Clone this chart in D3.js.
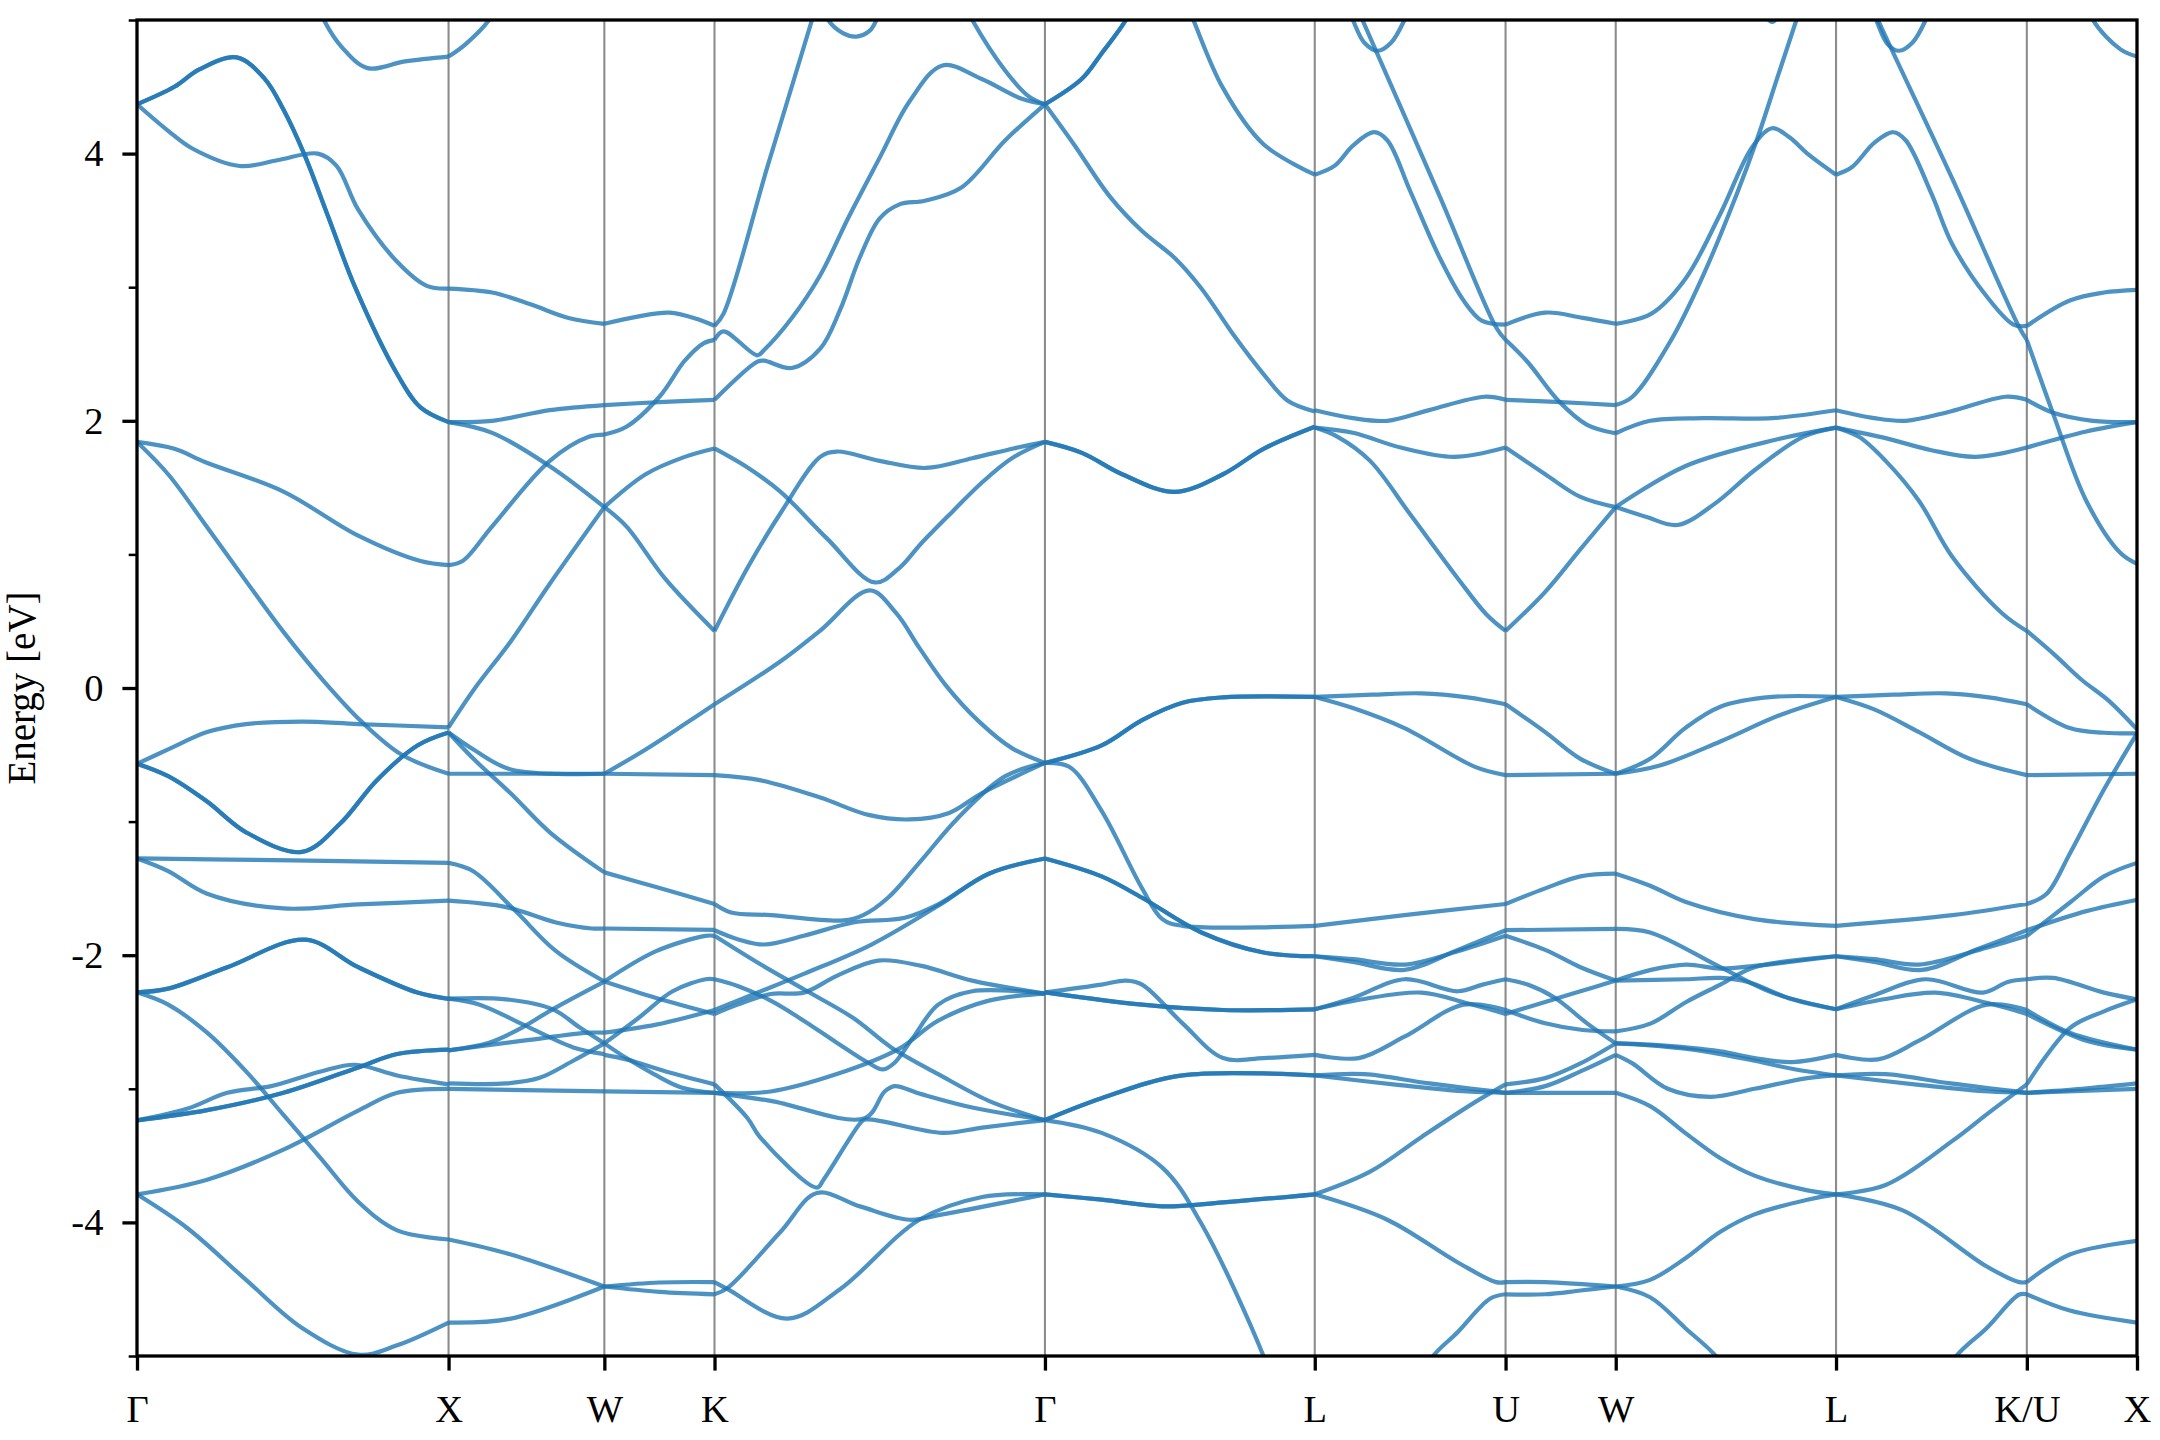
<!DOCTYPE html>
<html><head><meta charset="utf-8">
<script src="https://cdn.jsdelivr.net/npm/d3@7"></script>
<style>body{margin:0;background:#fff}</style>
</head><body>
<svg id="chart" width="2160" height="1440"></svg>
<script>
// High-symmetry path labels and cumulative k-distances
const kLabels = ["Γ","X","W","K","Γ","L","U","W","L","K/U","X"];
const kDist = [0, 1, 1.5, 1.8536, 2.9142, 3.7802, 4.3926, 4.7462, 5.4533, 6.0657, 6.4193];
const yTicks = [-4, -2, 0, 2, 4];
const yMinor = [-5, -3, -1, 1, 3, 5];

// Each band: [degeneracy, [[t (fraction along segment), E (eV)], ...]]
const segGX = [
 [2,[[0,4.369],[0.12,4.5],[0.2,4.63],[0.32,4.72],[0.41,4.56],[0.47,4.33],[0.536,4.0],[0.615,3.52],[0.70,3.0],[0.835,2.35],[0.91,2.1],[1,1.99]]],
 [1,[[0,4.369],[0.1,4.17],[0.176,4.04],[0.33,3.907],[0.45,3.95],[0.58,4.0],[0.64,3.91],[0.71,3.58],[0.835,3.19],[0.93,3.01],[1,2.99]]],
 [1,[[0.56,5.25],[0.6,5.0],[0.66,4.79],[0.74,4.64],[0.86,4.69],[1,4.726]]],
 [1,[[0,1.842],[0.12,1.79],[0.22,1.69],[0.47,1.47],[0.71,1.14],[0.91,0.95],[1,0.92]]],
 [1,[[0,1.842],[0.1,1.60],[0.22,1.22],[0.35,0.80],[0.47,0.42],[0.6,0.05],[0.72,-0.25],[0.85,-0.5],[1,-0.642]]],
 [1,[[0,-0.567],[0.1,-0.46],[0.225,-0.33],[0.35,-0.27],[0.53,-0.252],[0.71,-0.27],[1,-0.294]]],
 [2,[[0,-0.567],[0.1,-0.66],[0.225,-0.85],[0.35,-1.08],[0.53,-1.227],[0.65,-1.02],[0.77,-0.69],[0.9,-0.43],[1,-0.333]]],
 [1,[[0,-1.276],[0.5,-1.29],[1,-1.309]]],
 [1,[[0,-1.276],[0.1,-1.37],[0.225,-1.54],[0.47,-1.65],[0.71,-1.62],[1,-1.592]]],
 [2,[[0,-2.278],[0.1,-2.25],[0.29,-2.09],[0.54,-1.884],[0.71,-2.09],[0.9,-2.28],[1,-2.327]]],
 [1,[[0,-2.278],[0.1,-2.37],[0.225,-2.58],[0.35,-2.87],[0.47,-3.195],[0.59,-3.52],[0.71,-3.845],[0.835,-4.06],[1,-4.128]]],
 [1,[[0,-3.237],[0.16,-3.15],[0.29,-3.03],[0.43,-2.98],[0.59,-2.87],[0.70,-2.82],[0.835,-2.90],[1,-2.967]]],
 [2,[[0,-3.237],[0.225,-3.16],[0.47,-3.03],[0.71,-2.84],[0.835,-2.74],[1,-2.707]]],
 [1,[[0,-3.79],[0.225,-3.68],[0.47,-3.455],[0.71,-3.163],[0.835,-3.03],[1,-3.0]]],
 [1,[[0,-3.79],[0.16,-4.04],[0.35,-4.43],[0.53,-4.79],[0.71,-4.99],[0.835,-4.92],[1,-4.75]]]
];
const segXW = [
 [1,[[0,4.726],[0.11,4.82],[0.26,5.0],[0.4,5.3]]],
 [1,[[0,2.99],[0.28,2.96],[0.53,2.87],[0.77,2.77],[1,2.726]]],
 [1,[[0,1.99],[0.28,2.0],[0.65,2.08],[1,2.118]]],
 [1,[[0,1.99],[0.28,1.91],[0.65,1.66],[1,1.354]]],
 [1,[[0,0.92],[0.09,0.95],[0.28,1.21],[0.65,1.70],[0.9,1.88],[1,1.897]]],
 [1,[[0,-0.294],[0.17,0.0],[0.4,0.35],[0.65,0.78],[1,1.354]]],
 [1,[[0,-0.333],[0.16,-0.46],[0.4,-0.61],[1,-0.642]]],
 [1,[[0,-0.333],[0.16,-0.53],[0.4,-0.79],[0.65,-1.08],[1,-1.38]]],
 [1,[[0,-0.642],[1,-0.642]]],
 [1,[[0,-1.309],[0.156,-1.37],[0.43,-1.67],[0.69,-1.97],[1,-2.197]]],
 [1,[[0,-1.592],[0.37,-1.64],[0.69,-1.755],[0.92,-1.80],[1,-1.80]]],
 [1,[[0,-2.712],[0.26,-2.655],[0.475,-2.54],[0.667,-2.405],[1,-2.197]]],
 [1,[[0,-2.712],[0.48,-2.64],[0.9,-2.58],[1,-2.58]]],
 [1,[[0,-2.325],[0.37,-2.33],[0.67,-2.405],[0.84,-2.54],[1,-2.66]]],
 [1,[[0,-2.325],[0.2,-2.37],[0.48,-2.52],[0.8,-2.69],[1,-2.74]]],
 [1,[[0,-2.96],[0.37,-2.96],[0.58,-2.92],[0.8,-2.79],[1,-2.66]]],
 [1,[[0,-3.0],[1,-3.02]]],
 [1,[[0,-4.128],[0.4,-4.24],[1,-4.48]]],
 [1,[[0,-4.75],[0.4,-4.72],[1,-4.48]]]
];
const segWK = [
 [1,[[0,2.726],[0.3,2.78],[0.59,2.81],[0.85,2.76],[1,2.71]]],
 [1,[[0,2.118],[0.5,2.14],[1,2.157]]],
 [1,[[0,1.897],[0.2,1.955],[0.5,2.18],[0.73,2.45],[0.9,2.58],[1,2.606]]],
 [1,[[0,1.354],[0.375,1.60],[0.73,1.73],[1,1.793]]],
 [1,[[0,1.354],[0.2,1.21],[0.55,0.82],[1,0.427]]],
 [1,[[0,-0.642],[0.375,-0.46],[0.73,-0.27],[1,-0.122]]],
 [1,[[0,-0.642],[1,-0.652]]],
 [1,[[0,-1.38],[0.47,-1.49],[1,-1.617]]],
 [1,[[0,-1.80],[1,-1.81]]],
 [1,[[0,-2.197],[0.47,-1.97],[0.92,-1.855],[1,-1.855]]],
 [1,[[0,-2.197],[0.47,-2.32],[1,-2.44]]],
 [1,[[0,-2.58],[0.47,-2.52],[1,-2.41]]],
 [1,[[0,-2.66],[0.31,-2.47],[0.62,-2.27],[0.92,-2.18],[1,-2.18]]],
 [1,[[0,-2.66],[0.2,-2.77],[0.45,-2.89],[0.7,-2.99],[1,-3.03]]],
 [1,[[0,-2.746],[0.2,-2.78],[0.6,-2.88],[1,-2.967]]],
 [1,[[0,-3.02],[1,-3.03]]],
 [1,[[0,-4.48],[0.5,-4.45],[1,-4.447]]],
 [1,[[0,-4.48],[0.5,-4.52],[1,-4.538]]]
];
const segKG = [
 [1,[[0,2.71],[0.027,2.80],[0.16,3.9],[0.295,5.0],[0.33,5.3]]],
 [1,[[0.3,5.3],[0.344,5.0],[0.39,4.9],[0.43,4.876],[0.47,4.92],[0.49,5.0],[0.53,5.3]]],
 [1,[[0.74,5.2],[0.78,5.0],[0.88,4.62],[0.95,4.43],[1,4.369]]],
 [1,[[0,2.606],[0.027,2.67],[0.13,2.49],[0.15,2.53],[0.234,2.77],[0.32,3.09],[0.405,3.52],[0.50,3.97],[0.59,4.39],[0.69,4.66],[0.807,4.56],[0.93,4.41],[1,4.369]]],
 [1,[[0,2.157],[0.13,2.443],[0.15,2.45],[0.234,2.395],[0.32,2.54],[0.38,2.83],[0.44,3.224],[0.50,3.516],[0.56,3.62],[0.637,3.647],[0.746,3.744],[0.88,4.10],[1,4.369]]],
 [1,[[0,1.793],[0.1,1.65],[0.2,1.468],[0.34,1.12],[0.485,0.79],[0.56,0.9],[0.624,1.078],[0.72,1.32],[0.807,1.533],[0.9,1.72],[1,1.842]]],
 [1,[[0,0.427],[0.1,0.9],[0.2,1.31],[0.32,1.73],[0.37,1.77],[0.5,1.70],[0.64,1.647],[0.78,1.72],[0.905,1.793],[1,1.842]]],
 [1,[[0,-0.122],[0.2,0.20],[0.32,0.43],[0.47,0.73],[0.55,0.56],[0.62,0.30],[0.7,0.02],[0.8,-0.25],[0.9,-0.45],[1,-0.561]]],
 [1,[[0,-0.652],[0.137,-0.69],[0.32,-0.82],[0.466,-0.95],[0.59,-0.984],[0.71,-0.935],[0.807,-0.79],[1,-0.561]]],
 [1,[[0,-1.617],[0.05,-1.68],[0.17,-1.70],[0.39,-1.74],[0.45,-1.70],[0.525,-1.57],[0.626,-1.29],[0.734,-0.98],[0.88,-0.66],[1,-0.561]]],
 [1,[[0,-1.813],[0.07,-1.88],[0.15,-1.92],[0.27,-1.855],[0.42,-1.755],[0.576,-1.72],[0.677,-1.62],[0.83,-1.39],[1,-1.276]]],
 [1,[[0,-1.855],[0.12,-2.04],[0.27,-2.255],[0.42,-2.47],[0.535,-2.69],[0.677,-2.89],[0.83,-3.09],[0.98,-3.22],[1,-3.234]]],
 [1,[[0,-2.18],[0.07,-2.23],[0.17,-2.34],[0.27,-2.49],[0.37,-2.655],[0.465,-2.805],[0.51,-2.855],[0.545,-2.805],[0.6,-2.62],[0.677,-2.37],[0.78,-2.27],[1,-2.287]]],
 [1,[[0,-2.44],[0.07,-2.37],[0.17,-2.29],[0.27,-2.28],[0.37,-2.155],[0.495,-2.04],[0.626,-2.08],[0.78,-2.19],[1,-2.287]]],
 [1,[[0,-2.41],[0.12,-2.29],[0.27,-2.14],[0.475,-1.92],[0.677,-1.63],[0.83,-1.39],[1,-1.276]]],
 [1,[[0,-3.03],[0.17,-3.02],[0.37,-2.89],[0.555,-2.705],[0.677,-2.49],[0.83,-2.34],[1,-2.287]]],
 [1,[[0,-3.03],[0.17,-3.09],[0.455,-3.22],[0.515,-3.02],[0.545,-2.98],[0.626,-3.04],[0.78,-3.14],[1,-3.234]]],
 [1,[[0,-2.967],[0.1,-3.22],[0.137,-3.36],[0.31,-3.74],[0.33,-3.68],[0.44,-3.26],[0.455,-3.23],[0.69,-3.33],[0.81,-3.29],[1,-3.234]]],
 [1,[[0,-4.538],[0.04,-4.49],[0.2,-4.07],[0.31,-3.78],[0.44,-3.88],[0.59,-3.98],[0.69,-3.94],[1,-3.79]]],
 [1,[[0,-4.447],[0.04,-4.5],[0.22,-4.72],[0.38,-4.5],[0.62,-3.98],[0.81,-3.81],[1,-3.79]]]
];
const segGL = [
 [2,[[0,4.369],[0.137,4.56],[0.21,4.75],[0.30,5.0],[0.36,5.25]]],
 [1,[[0,4.369],[0.107,4.07],[0.24,3.68],[0.36,3.42],[0.48,3.22],[0.58,2.99],[0.70,2.64],[0.81,2.35],[0.90,2.15],[1,2.07]]],
 [1,[[0.5,5.25],[0.55,5.0],[0.66,4.49],[0.81,4.07],[1,3.842]]],
 [2,[[0,1.842],[0.137,1.76],[0.286,1.60],[0.48,1.468],[0.66,1.60],[0.81,1.79],[1,1.955]]],
 [2,[[0,-0.561],[0.21,-0.43],[0.36,-0.24],[0.51,-0.11],[0.66,-0.07],[1,-0.067]]],
 [1,[[0,-0.561],[0.09,-0.59],[0.21,-0.92],[0.36,-1.50],[0.435,-1.73],[0.51,-1.78],[1,-1.78]]],
 [2,[[0,-1.276],[0.21,-1.41],[0.36,-1.57],[0.58,-1.83],[0.81,-1.98],[1,-2.008]]],
 [1,[[0,-2.278],[0.21,-2.22],[0.30,-2.19],[0.36,-2.22],[0.51,-2.51],[0.66,-2.77],[0.81,-2.77],[1,-2.746]]],
 [2,[[0,-2.278],[0.36,-2.37],[0.66,-2.41],[1,-2.405]]],
 [2,[[0,-3.234],[0.21,-3.07],[0.51,-2.9],[1,-2.9]]],
 [1,[[0,-3.234],[0.21,-3.33],[0.435,-3.59],[0.58,-4.01],[0.81,-5.0],[0.86,-5.3]]],
 [2,[[0,-3.79],[0.21,-3.83],[0.435,-3.88],[0.66,-3.85],[1,-3.79]]]
];
const segLU = [
 [1,[[0,3.842],[0.105,3.91],[0.2,4.06],[0.31,4.16],[0.38,4.10],[0.5,3.72],[0.655,3.22],[0.78,2.90],[0.875,2.75],[1,2.72]]],
 [1,[[0.12,5.3],[0.2,5.0],[0.26,4.83],[0.33,4.77],[0.40,4.83],[0.47,5.0],[0.55,5.3]]],
 [1,[[0.19,5.2],[0.25,5.0],[0.655,3.68],[0.95,2.70],[1,2.606]]],
 [1,[[0,2.079],[0.2,2.02],[0.38,2.0],[0.6,2.08],[0.89,2.18],[1,2.157]]],
 [1,[[0,1.949],[0.2,1.91],[0.45,1.80],[0.73,1.73],[1,1.80]]],
 [1,[[0,1.949],[0.12,1.88],[0.29,1.70],[0.5,1.30],[0.75,0.82],[0.9,0.55],[1,0.427]]],
 [1,[[0,-0.067],[0.3,-0.05],[0.56,-0.04],[0.8,-0.07],[1,-0.122]]],
 [1,[[0,-0.067],[0.2,-0.15],[0.47,-0.30],[0.84,-0.59],[1,-0.652]]],
 [1,[[0,-1.78],[0.47,-1.70],[1,-1.617]]],
 [1,[[0,-2.008],[0.2,-2.05],[0.47,-2.11],[0.75,-1.96],[1,-1.813]]],
 [1,[[0,-2.008],[0.2,-2.03],[0.47,-2.07],[0.75,-1.97],[1,-1.855]]],
 [1,[[0,-2.405],[0.2,-2.32],[0.47,-2.18],[0.75,-2.27],[0.88,-2.22],[1,-2.18]]],
 [1,[[0,-2.405],[0.25,-2.33],[0.56,-2.28],[0.8,-2.36],[1,-2.44]]],
 [1,[[0,-2.746],[0.23,-2.77],[0.47,-2.61],[0.78,-2.37],[1,-2.41]]],
 [1,[[0,-2.9],[0.26,-2.89],[0.6,-2.96],[1,-3.03]]],
 [1,[[0,-2.9],[0.435,-2.97],[0.8,-3.02],[1,-3.03]]],
 [1,[[0,-3.79],[0.29,-3.62],[0.56,-3.36],[0.84,-3.10],[1,-2.967]]],
 [1,[[0,-3.79],[0.38,-3.98],[0.75,-4.30],[0.95,-4.447],[1,-4.447]]],
 [1,[[0.55,-5.3],[0.6,-5.04],[0.75,-4.82],[0.92,-4.57],[1,-4.538]]]
];
const segUW = [
 [1,[[0,2.72],[0.36,2.81],[0.7,2.77],[1,2.726]]],
 [1,[[0,2.606],[0.2,2.44],[0.48,2.15],[0.74,1.97],[1,1.907]]],
 [1,[[0,2.157],[0.5,2.14],[1,2.118]]],
 [1,[[0,1.80],[0.36,1.6],[0.68,1.43],[1,1.354]]],
 [1,[[0,0.427],[0.36,0.72],[0.68,1.04],[1,1.354]]],
 [1,[[0,-0.122],[0.36,-0.33],[0.68,-0.53],[1,-0.642]]],
 [1,[[0,-0.652],[1,-0.642]]],
 [1,[[0,-1.617],[0.36,-1.50],[0.68,-1.41],[1,-1.39]]],
 [1,[[0,-1.813],[1,-1.803]]],
 [1,[[0,-1.855],[0.36,-1.96],[0.68,-2.09],[1,-2.19]]],
 [1,[[0,-2.18],[0.2,-2.22],[0.45,-2.32],[0.74,-2.51],[1,-2.66]]],
 [1,[[0,-2.44],[0.36,-2.35],[0.68,-2.27],[1,-2.19]]],
 [1,[[0,-2.41],[0.36,-2.51],[0.7,-2.56],[1,-2.57]]],
 [1,[[0,-2.967],[0.36,-2.92],[0.68,-2.81],[1,-2.66]]],
 [1,[[0,-3.03],[0.36,-2.98],[0.68,-2.87],[1,-2.746]]],
 [1,[[0,-3.03],[1,-3.03]]],
 [1,[[0,-4.447],[0.36,-4.447],[1,-4.48]]],
 [1,[[0,-4.538],[0.36,-4.538],[0.68,-4.51],[1,-4.48]]]
];
const segWL = [
 [1,[[0,2.726],[0.16,2.80],[0.315,3.06],[0.475,3.55],[0.62,4.05],[0.71,4.19],[0.79,4.12],[0.87,4.0],[1,3.842]]],
 [1,[[0,2.118],[0.076,2.18],[0.25,2.6],[0.4,3.1],[0.55,3.7],[0.64,4.1],[0.74,4.6],[0.82,5.0],[0.87,5.25]]],
 [1,[[0.66,5.08],[0.71,4.985],[0.76,5.08]]],
 [1,[[0,1.907],[0.156,2.0],[0.4,2.02],[0.71,2.02],[1,2.079]]],
 [1,[[0,1.354],[0.315,1.66],[0.73,1.86],[1,1.949]]],
 [1,[[0,1.354],[0.14,1.28],[0.28,1.22],[0.45,1.38],[0.63,1.63],[0.85,1.88],[1,1.949]]],
 [1,[[0,-0.642],[0.156,-0.53],[0.315,-0.3],[0.475,-0.14],[0.71,-0.067],[1,-0.067]]],
 [1,[[0,-0.642],[0.2,-0.58],[0.475,-0.40],[0.75,-0.2],[1,-0.067]]],
 [1,[[0,-1.39],[0.156,-1.48],[0.315,-1.60],[0.63,-1.73],[1,-1.78]]],
 [1,[[0,-1.803],[0.156,-1.83],[0.475,-2.09],[0.71,-2.28],[1,-2.405]]],
 [1,[[0,-2.19],[0.16,-2.11],[0.32,-2.07],[0.475,-2.1],[0.63,-2.08],[1,-2.008]]],
 [1,[[0,-2.19],[0.32,-2.18],[0.475,-2.17],[0.6,-2.2],[0.8,-2.33],[1,-2.405]]],
 [1,[[0,-2.57],[0.16,-2.51],[0.32,-2.35],[0.475,-2.22],[0.63,-2.09],[1,-2.008]]],
 [1,[[0,-2.66],[0.156,-2.675],[0.315,-2.70],[0.475,-2.74],[0.63,-2.79],[0.8,-2.85],[1,-2.9]]],
 [1,[[0,-2.66],[0.156,-2.67],[0.475,-2.72],[0.63,-2.77],[0.8,-2.80],[1,-2.746]]],
 [1,[[0,-2.746],[0.076,-2.81],[0.236,-3.0],[0.43,-3.06],[0.63,-3.0],[0.87,-2.92],[1,-2.9]]],
 [1,[[0,-3.03],[0.156,-3.13],[0.315,-3.33],[0.475,-3.52],[0.63,-3.65],[0.87,-3.76],[1,-3.79]]],
 [1,[[0,-4.48],[0.156,-4.43],[0.315,-4.27],[0.475,-4.07],[0.63,-3.94],[0.87,-3.83],[1,-3.79]]],
 [1,[[0,-4.48],[0.156,-4.56],[0.315,-4.79],[0.475,-5.04],[0.55,-5.3]]]
];
const segLK = [
 [1,[[0,3.842],[0.084,3.9],[0.2,4.08],[0.30,4.16],[0.365,4.10],[0.5,3.7],[0.61,3.32],[0.79,2.93],[0.93,2.72],[1,2.71]]],
 [1,[[0.12,5.3],[0.21,5.0],[0.27,4.82],[0.33,4.77],[0.40,4.83],[0.47,5.0],[0.55,5.3]]],
 [1,[[0.16,5.2],[0.22,5.0],[0.61,3.81],[0.96,2.70],[1,2.606]]],
 [1,[[0,2.079],[0.2,2.02],[0.365,2.0],[0.6,2.07],[0.89,2.18],[1,2.157]]],
 [1,[[0,1.949],[0.26,1.87],[0.5,1.78],[0.73,1.73],[1,1.80]]],
 [1,[[0,1.949],[0.12,1.88],[0.26,1.70],[0.435,1.40],[0.61,0.98],[0.87,0.56],[1,0.427]]],
 [1,[[0,-0.067],[0.3,-0.05],[0.575,-0.04],[0.8,-0.07],[1,-0.122]]],
 [1,[[0,-0.067],[0.2,-0.16],[0.435,-0.33],[0.7,-0.53],[1,-0.652]]],
 [1,[[0,-1.78],[0.61,-1.70],[1,-1.617]]],
 [1,[[0,-2.008],[0.2,-2.05],[0.45,-2.11],[0.75,-1.95],[1,-1.813]]],
 [1,[[0,-2.008],[0.2,-2.03],[0.435,-2.07],[0.75,-1.96],[1,-1.855]]],
 [1,[[0,-2.405],[0.2,-2.3],[0.47,-2.18],[0.77,-2.28],[0.9,-2.2],[1,-2.18]]],
 [1,[[0,-2.405],[0.25,-2.33],[0.52,-2.28],[0.8,-2.36],[1,-2.44]]],
 [1,[[0,-2.746],[0.22,-2.78],[0.435,-2.64],[0.79,-2.37],[1,-2.41]]],
 [1,[[0,-2.9],[0.26,-2.89],[0.6,-2.96],[1,-3.03]]],
 [1,[[0,-2.9],[0.435,-2.97],[0.8,-3.02],[1,-3.03]]],
 [1,[[0,-3.79],[0.26,-3.72],[0.61,-3.39],[0.8,-3.18],[1,-2.967]]],
 [1,[[0,-3.79],[0.35,-3.91],[0.79,-4.33],[0.96,-4.447],[1,-4.447]]],
 [1,[[0.56,-5.3],[0.61,-5.04],[0.79,-4.79],[0.96,-4.54],[1,-4.538]]]
];
const segUX = [
 [1,[[0,2.71],[0.39,2.90],[0.7,2.96],[1,2.98]]],
 [1,[[0,2.606],[0.24,2.05],[0.54,1.40],[0.85,1.01],[1,0.93]]],
 [1,[[0,2.157],[0.24,2.06],[0.6,2.0],[1,1.99]]],
 [1,[[0,1.80],[0.54,1.92],[1,1.99]]],
 [1,[[0,0.427],[0.25,0.25],[0.5,0.06],[0.75,-0.1],[1,-0.31]]],
 [1,[[0.5,5.25],[0.6,5.0],[0.85,4.78],[1,4.726]]],
 [1,[[0,-0.122],[0.39,-0.30],[0.7,-0.335],[1,-0.34]]],
 [1,[[0,-0.652],[1,-0.642]]],
 [1,[[0,-1.617],[0.18,-1.54],[0.39,-1.24],[0.7,-0.76],[1,-0.34]]],
 [1,[[0,-1.813],[0.54,-1.67],[1,-1.585]]],
 [1,[[0,-1.855],[0.4,-1.6],[0.7,-1.41],[1,-1.309]]],
 [1,[[0,-2.18],[0.24,-2.17],[0.7,-2.28],[1,-2.33]]],
 [1,[[0,-2.41],[0.39,-2.58],[1,-2.707]]],
 [1,[[0,-2.44],[0.54,-2.64],[1,-2.707]]],
 [1,[[0,-2.967],[0.39,-2.545],[0.7,-2.42],[1,-2.33]]],
 [1,[[0,-3.03],[0.5,-3.0],[1,-2.96]]],
 [1,[[0,-3.03],[1,-3.0]]],
 [1,[[0,-4.447],[0.39,-4.24],[1,-4.138]]],
 [1,[[0,-4.538],[0.39,-4.66],[1,-4.75]]]
];
const segments = [segGX, segXW, segWK, segKG, segGL, segLU, segUW, segWL, segLK, segUX];

// ---------- drawing ----------
const svg = d3.select("#chart");
svg.append("rect").attr("width", 2160).attr("height", 1440).attr("fill", "#fff");
const L = 137, R = 2137, T = 20, B = 1356;
const x = d3.scaleLinear().domain([kDist[0], kDist[kDist.length - 1]]).range([L, R]);
const y = d3.scaleLinear().domain([-5, 5]).range([B, T]);
const font = "'Liberation Serif','Times New Roman',Times,serif";

svg.append("defs").append("clipPath").attr("id", "clip")
  .append("rect").attr("x", L).attr("y", T).attr("width", R - L).attr("height", B - T);

// vertical lines at interior high-symmetry points
svg.append("g").selectAll("line").data(kDist.slice(1, -1)).join("line")
  .attr("x1", d => x(d)).attr("x2", d => x(d)).attr("y1", T).attr("y2", B)
  .attr("stroke", "#000").attr("stroke-opacity", 0.45).attr("stroke-width", 2.1);

const line = d3.line().x(d => x(d[0])).y(d => y(d[1])).curve(d3.curveCatmullRom.alpha(0.5));
const bandData = [];
segments.forEach((seg, i) => {
  const k0 = kDist[i], k1 = kDist[i + 1];
  seg.forEach(([deg, pts]) => {
    const mapped = pts.map(([t, e]) => [k0 + t * (k1 - k0), e]);
    for (let j = 0; j < deg; j++) bandData.push(mapped);
  });
});
svg.append("g").attr("clip-path", "url(#clip)").selectAll("path").data(bandData).join("path")
  .attr("d", line).attr("fill", "none").attr("stroke", "#1f77b4")
  .attr("stroke-opacity", 0.8).attr("stroke-width", 4.2).attr("stroke-linejoin", "round");

// axes
const yAxis = d3.axisLeft(y).tickValues(yTicks).tickFormat(d => String(d)).tickSize(14.6).tickPadding(19);
const gy = svg.append("g").attr("transform", `translate(${L},0)`).call(yAxis);
const yAxisMinor = d3.axisLeft(y).tickValues(yMinor).tickFormat("").tickSize(8.3);
const gym = svg.append("g").attr("transform", `translate(${L},0)`).call(yAxisMinor);
const xAxis = d3.axisBottom(x).tickValues(kDist).tickFormat((d, i) => kLabels[i]).tickSize(14.6).tickPadding(24);
const gx = svg.append("g").attr("transform", `translate(0,${B})`).call(xAxis);
[gy, gym, gx].forEach(g => {
  g.select(".domain").remove();
  g.selectAll(".tick line").attr("stroke", "#000").attr("stroke-width", 3.3);
  g.selectAll(".tick text").attr("fill", "#000").style("font-family", font).style("font-size", "38.5px");
});
gym.selectAll(".tick line").attr("stroke-width", 2.5);

// frame
svg.append("rect").attr("x", L).attr("y", T).attr("width", R - L).attr("height", B - T)
  .attr("fill", "none").attr("stroke", "#000").attr("stroke-width", 3.3);

// y label
svg.append("text").attr("transform", `translate(35,${y(0)}) rotate(-90)`)
  .attr("text-anchor", "middle").style("font-family", font).style("font-size", "39px")
  .attr("fill", "#000").text("Energy [eV]");
</script>
</body></html>
